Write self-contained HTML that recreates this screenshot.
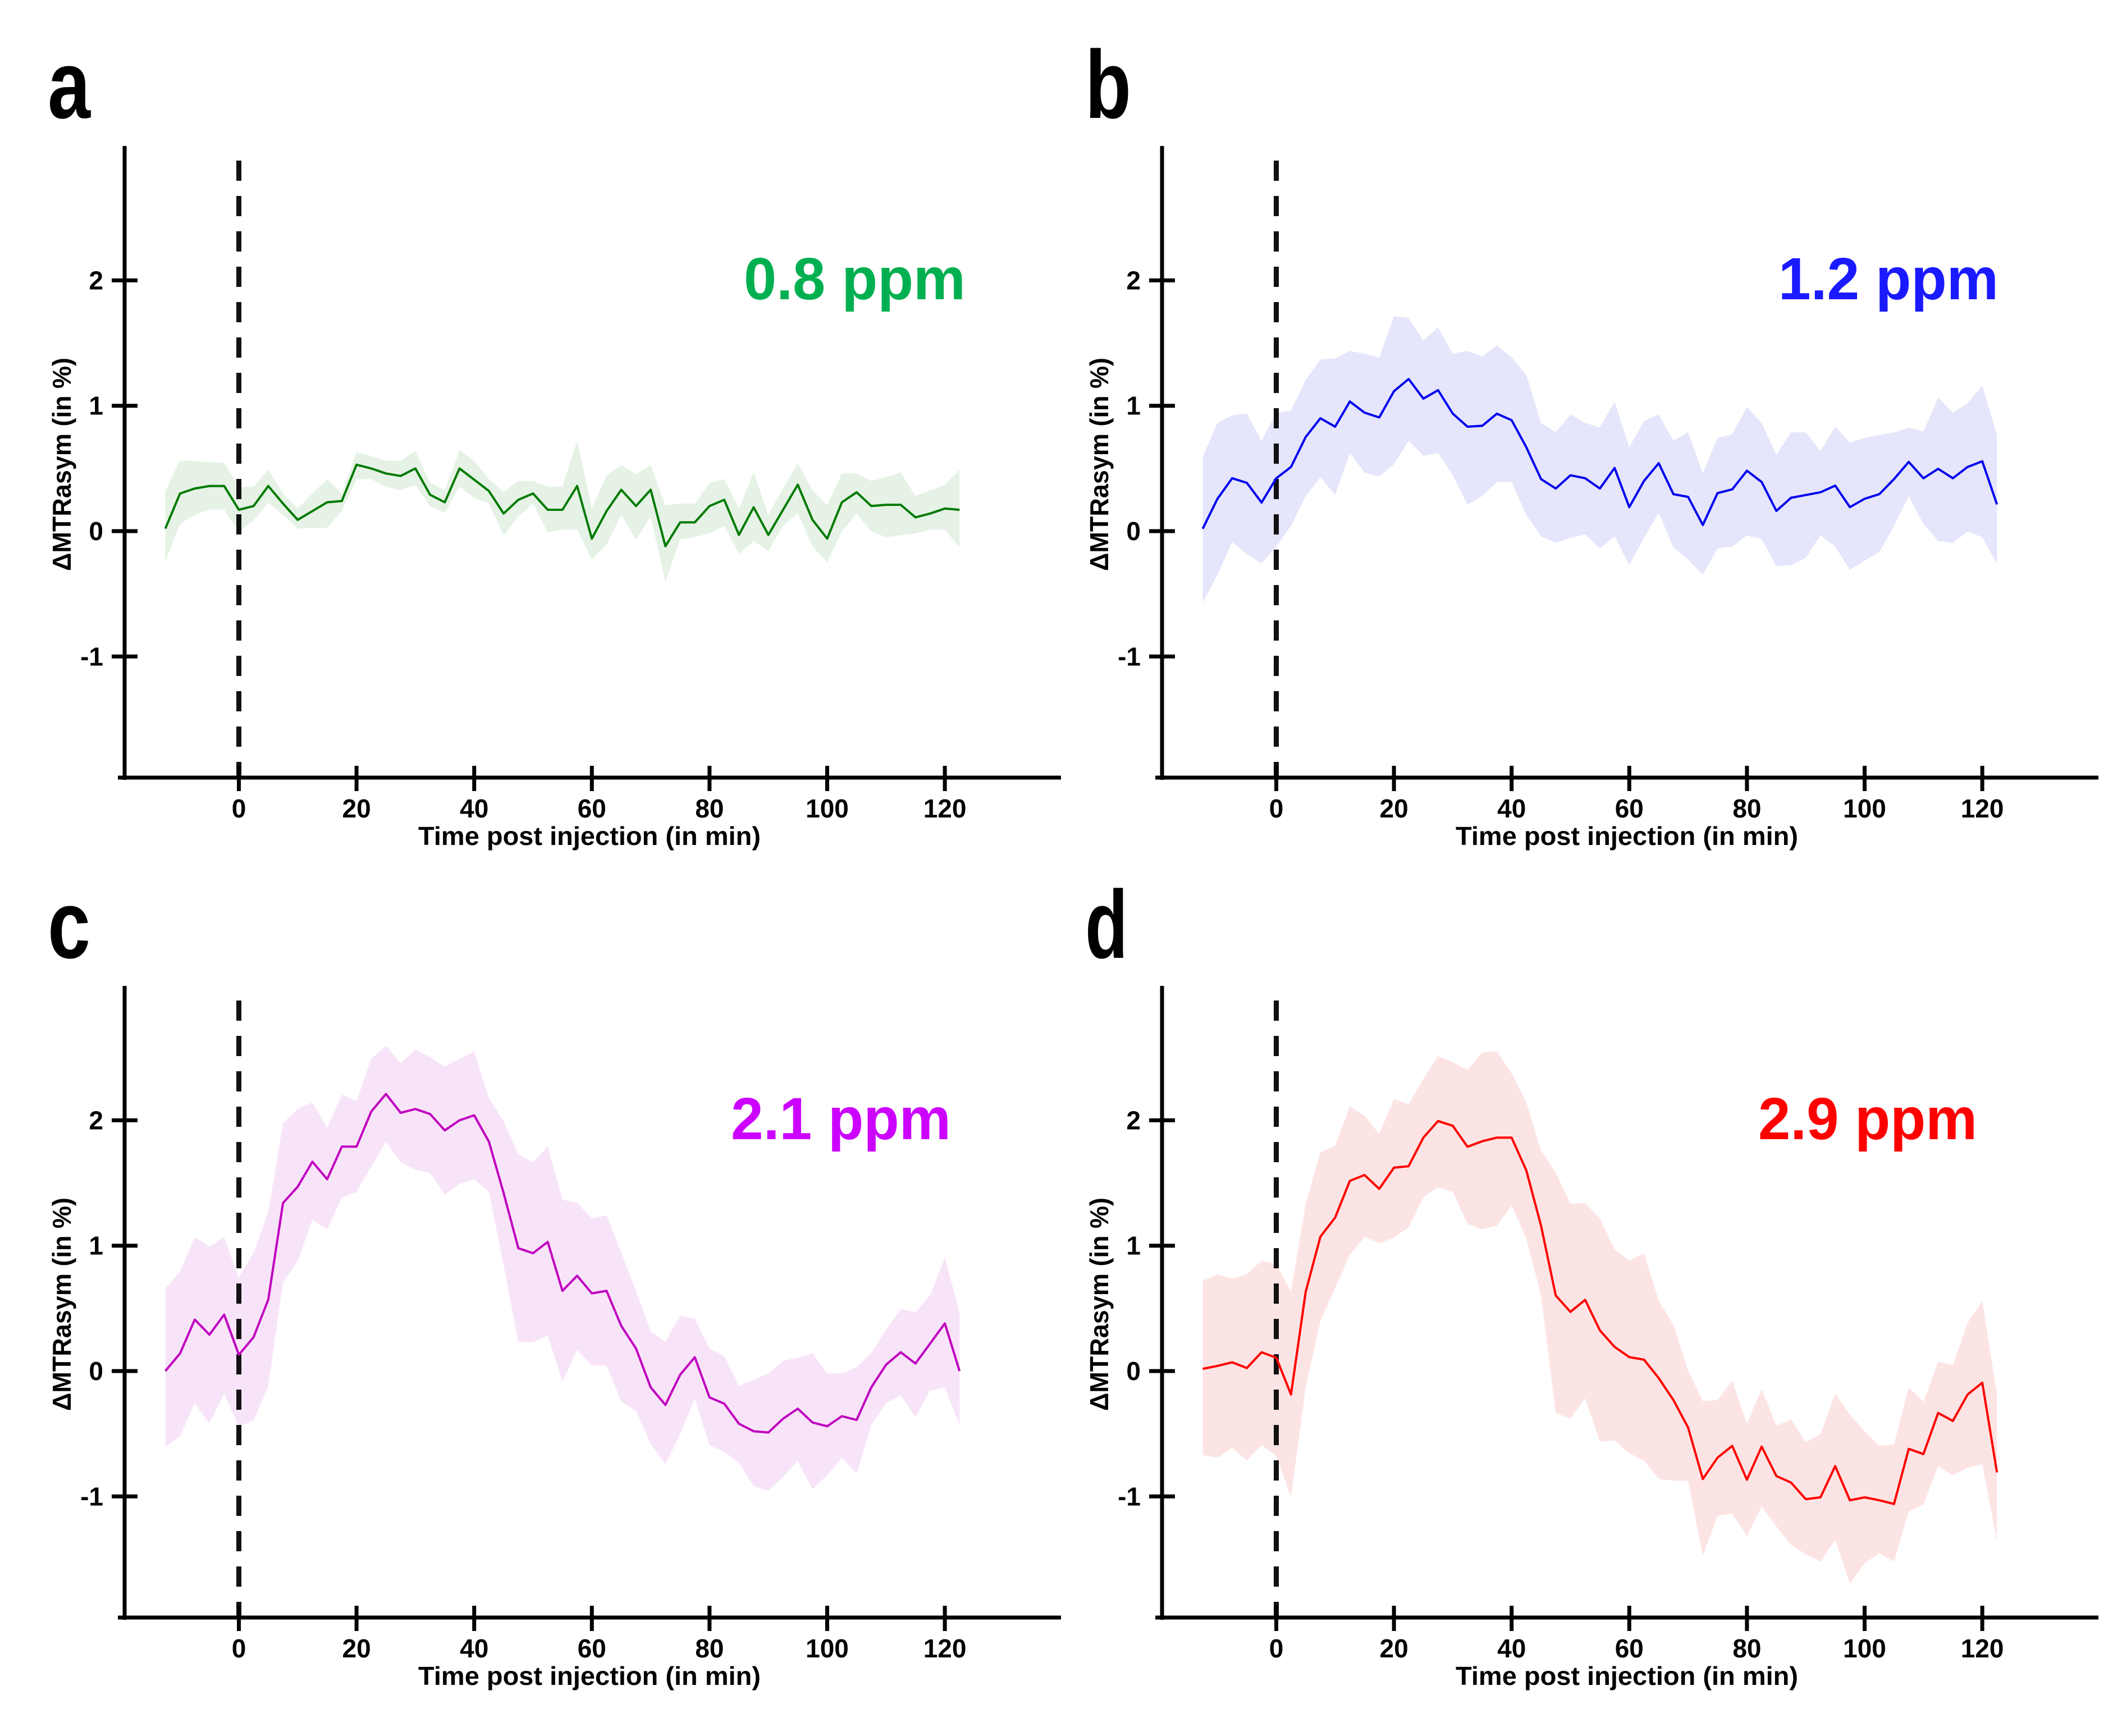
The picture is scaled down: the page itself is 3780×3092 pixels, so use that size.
<!DOCTYPE html>
<html><head><meta charset="utf-8"><style>
html,body{margin:0;padding:0;background:#fff;}
svg{display:block;}
text{font-family:"Liberation Sans",sans-serif;font-weight:bold;}
</style></head>
<body>
<svg id="fig" xmlns="http://www.w3.org/2000/svg" width="3780" height="3092" viewBox="0 0 3780 3092"></svg>
<script>
const times = [-12.5,-10,-7.5,-5,-2.5,0,2.5,5,7.5,10,12.5,15,17.5,20,22.5,25,27.5,30,32.5,35,37.5,40,42.5,45,47.5,50,52.5,55,57.5,60,62.5,65,67.5,70,72.5,75,77.5,80,82.5,85,87.5,90,92.5,95,97.5,100,102.5,105,107.5,110,112.5,115,117.5,120,122.5];
const xTicks = [0,20,40,60,80,100,120];
const yTicks = [-1,0,1,2];
const xTickLabels = ["0","20","40","60","80","100","120"];
const yTickLabels = ["-1","0","1","2"];
const panelLetters = ["a","b","c","d"];
const ppmLabels = ["0.8 ppm","1.2 ppm","2.1 ppm","2.9 ppm"];

const meanA = [0.02,0.30,0.34,0.36,0.36,0.17,0.20,0.36,0.22,0.09,0.16,0.23,0.24,0.53,0.50,0.46,0.44,0.50,0.29,0.23,0.50,0.41,0.32,0.14,0.25,0.30,0.17,0.17,0.36,-0.06,0.16,0.33,0.20,0.33,-0.12,0.07,0.07,0.20,0.25,-0.03,0.19,-0.03,0.17,0.37,0.09,-0.06,0.23,0.31,0.20,0.21,0.21,0.11,0.14,0.18,0.17];
const upperA = [0.318,0.564,0.557,0.552,0.546,0.355,0.355,0.49,0.30,0.18,0.30,0.415,0.30,0.631,0.60,0.56,0.56,0.64,0.385,0.325,0.646,0.56,0.415,0.31,0.40,0.40,0.355,0.355,0.72,0.18,0.445,0.527,0.452,0.527,0.206,0.22,0.22,0.385,0.415,0.18,0.467,0.13,0.34,0.542,0.325,0.206,0.46,0.46,0.40,0.43,0.467,0.28,0.325,0.37,0.49];
const lowerA = [-0.242,0.057,0.131,0.172,0.172,-0.003,0.087,0.228,0.131,0.019,0.027,0.027,0.161,0.415,0.415,0.355,0.325,0.37,0.198,0.146,0.355,0.266,0.22,-0.033,0.116,0.22,-0.01,0.012,0.012,-0.227,-0.107,0.131,-0.07,0.116,-0.406,-0.063,-0.048,-0.018,0.042,-0.182,-0.078,-0.16,0.042,0.146,-0.122,-0.249,-0.003,0.139,-0.003,-0.048,-0.033,-0.018,0.012,0.012,-0.13];

const meanB = [0.019,0.258,0.422,0.385,0.228,0.422,0.512,0.751,0.90,0.833,1.034,0.945,0.907,1.116,1.213,1.057,1.124,0.937,0.833,0.84,0.937,0.885,0.669,0.415,0.340,0.445,0.422,0.340,0.504,0.191,0.40,0.542,0.295,0.273,0.049,0.303,0.333,0.482,0.392,0.161,0.266,0.288,0.310,0.363,0.191,0.258,0.295,0.415,0.552,0.422,0.497,0.422,0.512,0.557,0.213];
const upperB = [0.594,0.863,0.922,0.937,0.721,0.945,0.96,1.206,1.37,1.378,1.437,1.415,1.385,1.713,1.699,1.52,1.624,1.415,1.437,1.393,1.482,1.385,1.243,0.863,0.788,0.93,0.863,0.825,1.034,0.669,0.878,0.93,0.721,0.788,0.46,0.743,0.773,0.99,0.863,0.609,0.788,0.788,0.639,0.833,0.706,0.743,0.766,0.788,0.825,0.795,1.064,0.945,1.019,1.161,0.766];
const lowerB = [-0.57,-0.347,-0.085,-0.182,-0.257,-0.123,0.042,0.28,0.43,0.288,0.624,0.467,0.437,0.534,0.721,0.601,0.624,0.445,0.213,0.28,0.392,0.392,0.131,-0.041,-0.093,-0.055,-0.026,-0.138,-0.041,-0.272,-0.055,0.146,-0.13,-0.227,-0.347,-0.138,-0.123,-0.033,-0.063,-0.279,-0.272,-0.212,-0.033,-0.123,-0.309,-0.235,-0.167,0.042,0.28,0.057,-0.078,-0.093,-0.003,-0.048,-0.264];

const meanC = [0.00,0.14,0.41,0.29,0.45,0.13,0.27,0.57,1.34,1.47,1.67,1.53,1.79,1.79,2.07,2.21,2.06,2.09,2.05,1.92,2.00,2.04,1.83,1.42,0.98,0.94,1.03,0.64,0.76,0.62,0.64,0.36,0.18,-0.13,-0.27,-0.03,0.11,-0.21,-0.26,-0.42,-0.48,-0.49,-0.38,-0.30,-0.41,-0.44,-0.36,-0.39,-0.13,0.05,0.15,0.06,0.22,0.38,0.00];
const upperC = [0.656,0.793,1.068,0.993,1.068,0.743,0.943,1.267,1.979,2.092,2.142,1.942,2.204,2.154,2.491,2.596,2.454,2.566,2.504,2.429,2.491,2.546,2.179,1.992,1.73,1.667,1.792,1.367,1.342,1.218,1.243,0.943,0.643,0.318,0.231,0.443,0.418,0.181,0.119,-0.119,-0.069,-0.019,0.081,0.106,0.144,-0.019,-0.019,0.031,0.144,0.331,0.493,0.468,0.606,0.905,0.468];
const lowerC = [-0.606,-0.518,-0.256,-0.418,-0.181,-0.443,-0.393,-0.119,0.706,0.88,1.205,1.13,1.38,1.43,1.63,1.829,1.667,1.605,1.58,1.405,1.492,1.53,1.43,0.843,0.231,0.231,0.281,-0.081,0.169,0.044,0.044,-0.243,-0.318,-0.581,-0.743,-0.506,-0.218,-0.593,-0.643,-0.731,-0.918,-0.955,-0.843,-0.718,-0.943,-0.83,-0.693,-0.818,-0.431,-0.256,-0.193,-0.368,-0.156,-0.131,-0.431];

const meanD = [0.018,0.041,0.07,0.024,0.15,0.106,-0.187,0.633,1.072,1.224,1.517,1.564,1.453,1.622,1.634,1.862,1.994,1.956,1.789,1.833,1.862,1.862,1.6,1.16,0.603,0.472,0.568,0.325,0.193,0.111,0.091,-0.056,-0.231,-0.451,-0.861,-0.691,-0.597,-0.867,-0.603,-0.837,-0.89,-1.022,-1.007,-0.758,-1.031,-1.007,-1.031,-1.06,-0.621,-0.662,-0.334,-0.398,-0.187,-0.093,-0.808];
const upperD = [0.721,0.773,0.735,0.773,0.882,0.852,0.633,1.335,1.745,1.798,2.111,2.038,1.892,2.17,2.126,2.331,2.513,2.463,2.404,2.542,2.551,2.375,2.141,1.76,1.584,1.335,1.341,1.218,0.969,0.882,0.94,0.56,0.369,0.003,-0.24,-0.231,-0.076,-0.421,-0.143,-0.436,-0.386,-0.568,-0.504,-0.181,-0.348,-0.48,-0.597,-0.583,-0.129,-0.246,0.076,0.047,0.384,0.56,-0.187];
const lowerD = [-0.67,-0.691,-0.612,-0.714,-0.591,-0.679,-1.007,-0.129,0.398,0.662,0.926,1.072,1.019,1.066,1.145,1.388,1.467,1.429,1.174,1.131,1.16,1.321,1.057,0.603,-0.334,-0.378,-0.217,-0.562,-0.553,-0.656,-0.714,-0.861,-0.875,-0.875,-1.476,-1.154,-1.139,-1.315,-1.08,-1.241,-1.388,-1.461,-1.52,-1.344,-1.695,-1.534,-1.452,-1.52,-1.118,-1.066,-0.758,-0.831,-0.772,-0.744,-1.359];

const NS = "http://www.w3.org/2000/svg";
const svg = document.getElementById("fig");
function mk(tag, attrs, parent){
  const e = document.createElementNS(NS, tag);
  for (const k in attrs) e.setAttribute(k, attrs[k]);
  (parent || svg).appendChild(e);
  return e;
}
const panels = [
  {dx:0, dy:0, mean:meanA, up:upperA, lo:lowerA, line:"#007a00", band:"#e5f2e5", lab:"#00b050", ppmX:1325, ppmW:395},
  {dx:1848, dy:0, mean:meanB, up:upperB, lo:lowerB, line:"#0000ee", band:"#e5e5fb", lab:"#1a1aff", ppmX:3168, ppmW:392},
  {dx:0, dy:1496, mean:meanC, up:upperC, lo:lowerC, line:"#c000c0", band:"#f8e4f8", lab:"#cc00ff", ppmX:1302, ppmW:392},
  {dx:1848, dy:1496, mean:meanD, up:upperD, lo:lowerD, line:"#ff0000", band:"#fde4e4", lab:"#ff0000", ppmX:3132, ppmW:390}
];
panels.forEach((p, pi) => {
  const g = mk("g", {});
  
  
  const X = t => 425.5 + p.dx + t * 10.48;
  const Y = v => 946 + p.dy - v * 223.3;
  // band
  let d = "";
  times.forEach((t, i) => { d += (i ? "L" : "M") + X(t).toFixed(1) + "," + Y(p.up[i]).toFixed(1); });
  for (let i = times.length - 1; i >= 0; i--) d += "L" + X(times[i]).toFixed(1) + "," + Y(p.lo[i]).toFixed(1);
  const band = mk("path", {d: d + "Z", fill: p.band, stroke: "none"}, g);
  
  
  // dashed zero line
  const dl = mk("line", {x1: X(0), x2: X(0), y1: 286 + p.dy, y2: 1385 + p.dy, stroke: "#111", "stroke-width": 9, "stroke-dasharray": "36,27"}, g);
  
  
  // mean line
  let m = "";
  times.forEach((t, i) => { m += (i ? "L" : "M") + X(t).toFixed(1) + "," + Y(p.mean[i]).toFixed(1); });
  const ml = mk("path", {d: m, fill: "none", stroke: p.line, "stroke-width": 4, "stroke-linejoin": "round"}, g);
  
  
  // axes
  const ya = mk("line", {x1: 222 + p.dx, x2: 222 + p.dx, y1: 260 + p.dy, y2: 1389 + p.dy, stroke: "#000", "stroke-width": 7}, g);
  
  
  const xa = mk("line", {x1: 210 + p.dx, x2: 1890 + p.dx, y1: 1385 + p.dy, y2: 1385 + p.dy, stroke: "#000", "stroke-width": 7}, g);
  
  
  xTicks.forEach((t, i) => {
    const tk = mk("line", {x1: X(t), x2: X(t), y1: 1364 + p.dy, y2: 1409 + p.dy, stroke: "#000", "stroke-width": 7}, g);
    
    
    const tl = mk("text", {x: X(t), y: 1456 + p.dy, "text-anchor": "middle", "font-size": 46}, g);
    tl.textContent = xTickLabels[i];
    
    
  });
  yTicks.forEach((v, i) => {
    const tk = mk("line", {x1: 199 + p.dx, x2: 245 + p.dx, y1: Y(v), y2: Y(v), stroke: "#000", "stroke-width": 7}, g);
    
    
    const tl = mk("text", {x: 184 + p.dx, y: Y(v) + 16, "text-anchor": "end", "font-size": 46}, g);
    tl.textContent = yTickLabels[i];
    
    
  });
  const xt = mk("text", {x: 1050 + p.dx, y: 1505 + p.dy, "text-anchor": "middle", "font-size": 46, textLength: 610, lengthAdjust: "spacingAndGlyphs"}, g);
  xt.textContent = "Time post injection (in min)";
  
  
  const yt = mk("text", {x: 0, y: 0, "text-anchor": "middle", "dominant-baseline": "central", "font-size": 46, textLength: 380, lengthAdjust: "spacingAndGlyphs", transform: "translate(" + (110 + p.dx) + "," + (827 + p.dy) + ") rotate(-90)"}, g);
  yt.textContent = "ΔMTRasym (in %)";
  
  
  const pl = mk("text", {x: 85 + p.dx, y: 210 + p.dy, "font-size": 172, textLength: 76 + (pi === 1 ? 6 : 0), lengthAdjust: "spacingAndGlyphs"}, g);
  pl.textContent = panelLetters[pi];
  
  
  const pp = mk("text", {x: p.ppmX, y: 533 + p.dy, "font-size": 106, fill: p.lab, textLength: p.ppmW, lengthAdjust: "spacingAndGlyphs"}, g);
  pp.textContent = ppmLabels[pi];
  
  
});
</script>
</body></html>
